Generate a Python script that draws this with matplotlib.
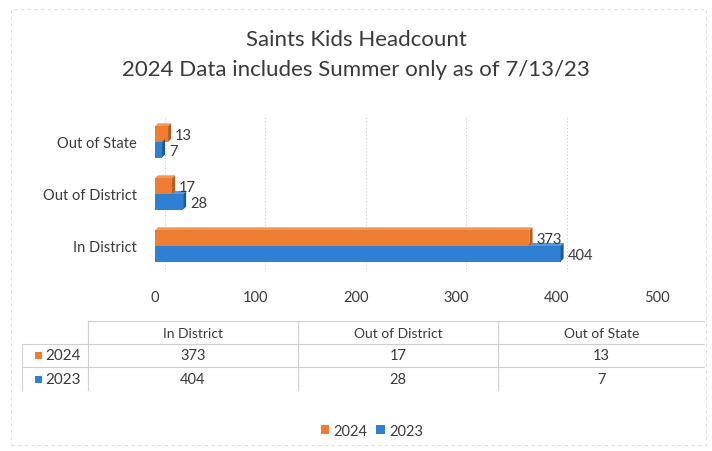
import matplotlib
matplotlib.use("Agg")
import matplotlib.pyplot as plt
from matplotlib.patches import Rectangle, Polygon

categories = ["In District", "Out of District", "Out of State"]
series_names = ["2024", "2023"]
values_2024 = [373, 17, 13]
values_2023 = [404, 28, 7]
x_ticks = [0, 100, 200, 300, 400, 500]
title_lines = ["Saints Kids Headcount", "2024 Data includes Summer only as of 7/13/23"]

C_ORANGE = "#ED7D31"
C_BLUE = "#2F7FD3"
C_ORANGE_D = "#B85A1E"
C_BLUE_D = "#1E5A9A"
TXT = "#3A3A3A"
GRID = "#C8C8C8"
FONT = "Lato"

W, H = 712, 452
fig = plt.figure(figsize=(W / 100, H / 100), dpi=100)
fig.patch.set_facecolor("white")

def fx(px):
    return px / W

def fy(py):
    return 1 - py / H

# outer frame
fig.add_artist(Rectangle((fx(11), fy(446)), fx(695), 436 / H, transform=fig.transFigure,
                         fill=False, edgecolor="#E0E0E0", lw=0.8, ls=(0, (3, 3))))

# titles
fig.text(0.5, fy(40), title_lines[0], ha="center", va="center", fontsize=16,
         color=TXT, family=FONT)
fig.text(0.5, fy(70), title_lines[1], ha="center", va="center", fontsize=16,
         color=TXT, family=FONT)

# main axes
ax_l, ax_r, ax_t, ax_b = 155, 657, 117, 273
ax = fig.add_axes([fx(ax_l), fy(ax_b), (ax_r - ax_l) / W, (ax_b - ax_t) / H])
ax.set_xlim(0, 500)
ax.set_ylim(-0.5, 2.5)
for s in ax.spines.values():
    s.set_visible(False)
ax.set_xticks(x_ticks)
ax.set_xticklabels([str(t) for t in x_ticks], fontsize=10.5, color=TXT, family=FONT)
ax.tick_params(axis="x", length=0, pad=13)
ax.set_yticks(range(len(categories)))
ax.set_yticklabels(categories, fontsize=10.5, color=TXT, family=FONT)
ax.tick_params(axis="y", length=0, pad=13)
for t in x_ticks:
    ax.axvline(t + 10, color=GRID, lw=0.8, ls=(0, (1, 2)), zorder=0)

bh = 0.30
depth_x = 3.0
depth_y = 0.06
ypos = list(range(len(categories)))
for vals, off, c, cd in [(values_2024, bh / 2, C_ORANGE, C_ORANGE_D),
                         (values_2023, -bh / 2, C_BLUE, C_BLUE_D)]:
    ax.barh([y + off for y in ypos], vals, height=bh, color=c, zorder=3)
    for y, v in zip(ypos, vals):
        yc = y + off
        # right side face
        ax.add_patch(Polygon([(v, yc - bh / 2), (v + depth_x, yc - bh / 2 + depth_y),
                              (v + depth_x, yc + bh / 2 + depth_y), (v, yc + bh / 2)],
                             closed=True, facecolor=cd, edgecolor="none", zorder=3))
        # top face
        ax.add_patch(Polygon([(0, yc + bh / 2), (v, yc + bh / 2),
                              (v + depth_x, yc + bh / 2 + depth_y), (depth_x, yc + bh / 2 + depth_y)],
                             closed=True, facecolor=c, edgecolor="none", alpha=0.8, zorder=2))
        ax.text(v + depth_x + 4, yc - 0.02, str(v), ha="left", va="center",
                fontsize=10.5, color=TXT, family=FONT, zorder=5)

# data table
tl, tr, tt, tb = 22, 705, 322, 392
tax = fig.add_axes([fx(tl), fy(tb), (tr - tl) / W, (tb - tt) / H])
tax.set_xlim(tl, tr)
tax.set_ylim(tb, tt)
tax.axis("off")
col_edges = [22, 88, 298, 498, 705]
row_edges = [322, 345, 368, 392]
lk = dict(color="#CFCFCF", lw=0.8)
tax.plot([col_edges[1], col_edges[-1]], [row_edges[0]] * 2, **lk)
for r in row_edges[1:]:
    tax.plot([col_edges[0], col_edges[-1]], [r, r], **lk)
for c in col_edges[1:]:
    tax.plot([c, c], [row_edges[0], row_edges[-1]], **lk)
tax.plot([col_edges[0]] * 2, [row_edges[1], row_edges[-1]], **lk)

for j, cat in enumerate(categories):
    cx = (col_edges[j + 1] + col_edges[j + 2]) / 2
    tax.text(cx, (row_edges[0] + row_edges[1]) / 2, cat, ha="center", va="center",
             fontsize=10, color=TXT, family=FONT)
for i, (name, vals, c) in enumerate([(series_names[0], values_2024, C_ORANGE),
                                      (series_names[1], values_2023, C_BLUE)]):
    cy = (row_edges[i + 1] + row_edges[i + 2]) / 2
    tax.add_patch(Rectangle((col_edges[0] + 13, cy - 3.5), 7, 7, facecolor=c, edgecolor="none"))
    tax.text(col_edges[0] + 23, cy, name, ha="left", va="center",
             fontsize=11, color=TXT, family=FONT)
    for j, v in enumerate(vals):
        cx = (col_edges[j + 1] + col_edges[j + 2]) / 2
        tax.text(cx, cy, str(v), ha="center", va="center",
                 fontsize=10.5, color=TXT, family=FONT)

# legend
handles = [Rectangle((0, 0), 1, 1, facecolor=C_ORANGE, edgecolor="none"),
           Rectangle((0, 0), 1, 1, facecolor=C_BLUE, edgecolor="none")]
leg = fig.legend(handles, series_names, loc="center", bbox_to_anchor=(fx(372), fy(432)),
                 ncol=2, frameon=False, handlelength=0.6, handleheight=0.6,
                 handletextpad=0.3, columnspacing=0.6,
                 prop={"family": FONT, "size": 10.5})
for t in leg.get_texts():
    t.set_color(TXT)

fig.savefig("out.png", dpi=100, facecolor="white")
